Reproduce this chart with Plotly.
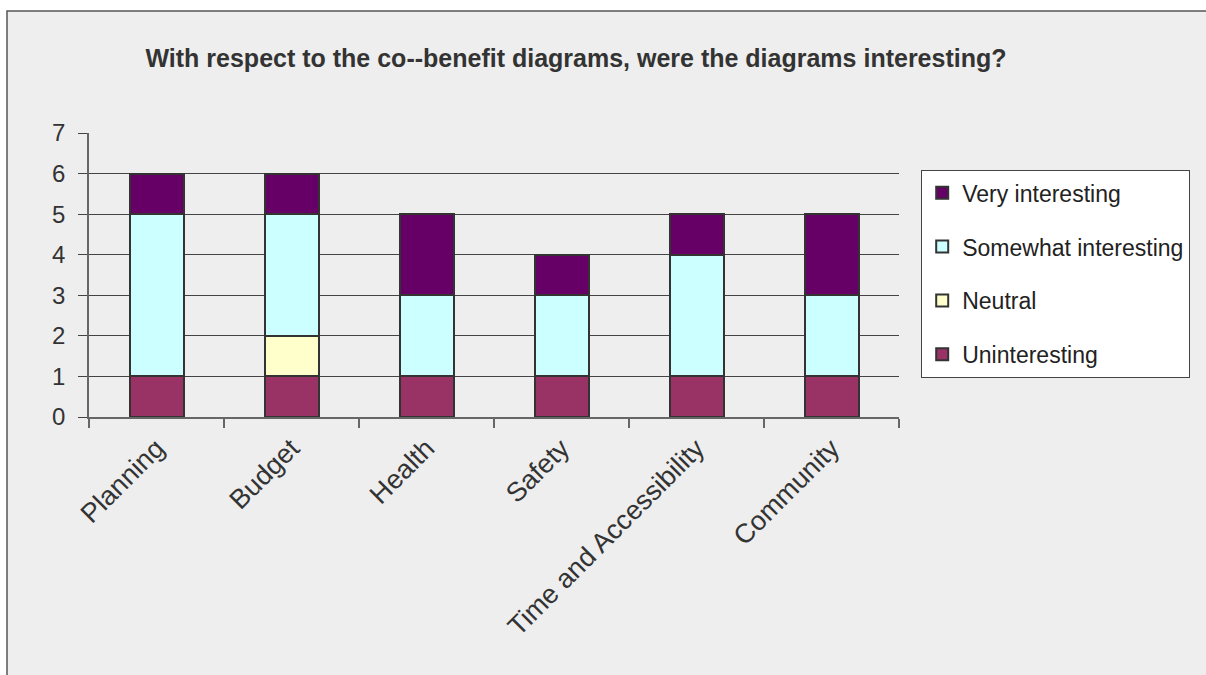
import plotly.graph_objects as go

categories = ["Planning", "Budget", "Health", "Safety", "Time and Accessibility", "Community"]
uninteresting = [1, 1, 1, 1, 1, 1]
neutral = [0, 1, 0, 0, 0, 0]
somewhat = [4, 3, 2, 2, 3, 2]
very = [1, 1, 2, 1, 1, 2]
y_ticks = [0, 1, 2, 3, 4, 5, 6, 7]

# stacked bottom to top; legend lists them top to bottom
series = [
    ("Uninteresting", uninteresting, "#993366"),
    ("Neutral", neutral, "#FFFFCC"),
    ("Somewhat interesting", somewhat, "#CCFFFF"),
    ("Very interesting", very, "#660066"),
]

FONT = "Liberation Sans, Arial, sans-serif"

fig = go.Figure()
for i, (name, vals, color) in enumerate(series):
    fig.add_trace(go.Bar(
        x=categories, y=vals, name=name,
        marker=dict(color=color, line=dict(color="#333333", width=2)),
        legendgroup=str(i), legendrank=len(series) - i,
    ))

# plot area in pixels: x 89..899, y 133..417
W, H = 1206, 675
L, R, T, B = 89, 899, 133, 417
pw, ph = R - L, B - T

def px_x(p):
    return (p - L) / pw

def px_y(p):
    return (B - p) / ph

fig.add_shape(type="rect", xref="paper", yref="paper",
              x0=px_x(7), x1=px_x(1260), y0=px_y(700), y1=px_y(11),
              fillcolor="#EEEEEE", line=dict(color="#555555", width=1.5),
              layer="below")

fig.update_layout(
    width=W, height=H,
    margin=dict(l=L, r=W - R, t=T, b=H - B),
    paper_bgcolor="white", plot_bgcolor="rgba(0,0,0,0)",
    barmode="stack", bargap=0.6,
    font=dict(family=FONT, color="#333333"),
    title=dict(text="<b>With respect to the co--benefit diagrams, were the diagrams interesting?</b>",
               x=px_x(576), xref="paper", xanchor="center",
               y=1 - 58 / H, yanchor="middle",
               font=dict(size=25, family=FONT, color="#333333")),
    showlegend=True,
    legend=dict(x=px_x(921), y=px_y(170), xanchor="left", yanchor="top",
                bgcolor="white", bordercolor="#444444", borderwidth=1.2,
                traceorder="grouped", tracegroupgap=21,
                font=dict(size=23, family=FONT, color="#222222"),
                itemwidth=30),
)

fig.update_xaxes(
    type="category", tickson="boundaries", ticks="outside", ticklen=9,
    tickcolor="#666666", tickwidth=1.5,
    showline=True, linecolor="#666666", linewidth=1.5,
    showgrid=False, tickangle=-45, ticklabelstandoff=3,
    tickfont=dict(size=27, family=FONT, color="#333333"),
)
fig.update_yaxes(
    range=[0, 7], tickvals=y_ticks, ticks="outside", ticklen=9,
    tickcolor="#444444", tickwidth=1.2,
    showline=True, linecolor="#666666", linewidth=1.5,
    showgrid=True, gridcolor="#444444", gridwidth=1.2,
    zeroline=False, ticklabelstandoff=8,
    tickfont=dict(size=24, family=FONT, color="#333333"),
)

fig.write_html("out.html")
